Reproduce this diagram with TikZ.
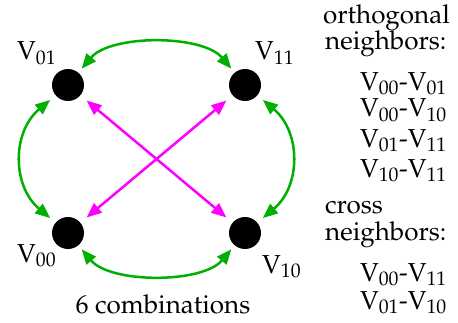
\documentclass[tikz,border=0pt]{standalone}
\usepackage[T1]{fontenc}
\usepackage{mathpazo}
\usetikzlibrary{arrows.meta, positioning}
\definecolor{orthgreen}{HTML}{00B000}
\definecolor{crossmag}{HTML}{FF00FF}
\tikzset{
  vtx/.style={circle, fill=black, minimum size=32pt, inner sep=0pt},
  lbl/.style={font=\fontsize{26}{28}\selectfont, inner sep=0pt},
  arr/.style={{Triangle[length=15pt,width=12pt]}-{Triangle[length=15pt,width=12pt]},
              line width=2.5pt, draw=#1, shorten <=5pt, shorten >=5pt},
  arr/.default=orthgreen,
}

\begin{document}
\begin{tikzpicture}[x=1pt, y=1pt]
  \useasboundingbox (0,0) rectangle (458,322);

  % the four corners
  \node[vtx] (v01) at (68,237) {};
  \node[vtx] (v11) at (245,237) {};
  \node[vtx] (v00) at (68,89) {};
  \node[vtx] (v10) at (245,89) {};

  \node[lbl, anchor=base west] (l01) at (17,262) {V$_{01}$};
  \node[lbl, anchor=base west] (l11) at (255,262) {V$_{11}$};
  \node[lbl, anchor=base west] (l00) at (17,60) {V$_{00}$};
  \node[lbl, anchor=base west] (l10) at (262,49) {V$_{10}$};

  % orthogonal pairs
  \draw[arr] (v01) to[out=50, in=130, looseness=0.82] (v11);
  \draw[arr] (v00) to[out=-50, in=-130, looseness=0.82] (v10);
  \draw[arr, shorten <=7pt, shorten >=7pt] (v00) to[out=140, in=220, looseness=1.15] (v01);
  \draw[arr, shorten <=7pt, shorten >=7pt] (v11) to[out=-40, in=40, looseness=1.15] (v10);

  % cross pairs
  \draw[arr=crossmag, shorten <=8pt, shorten >=8pt] (v01) -- (v10);
  \draw[arr=crossmag, shorten <=8pt, shorten >=8pt] (v11) -- (v00);

  \node[lbl, anchor=base] (combos) at (163,9) {6 combinations};

  % list on the right
  \node[lbl, anchor=base west] (orth) at (323,298) {orthogonal};
  \node[lbl, anchor=base west] (orthnb) at (325,272) {neighbors:};
  \node[lbl, anchor=base east] (o1) at (447,232) {V$_{00}$-V$_{01}$};
  \node[lbl, anchor=base east] (o2) at (447,205) {V$_{00}$-V$_{10}$};
  \node[lbl, anchor=base east] (o3) at (447,175) {V$_{01}$-V$_{11}$};
  \node[lbl, anchor=base east] (o4) at (447,145) {V$_{10}$-V$_{11}$};
  \node[lbl, anchor=base west] (cross) at (325,109) {cross};
  \node[lbl, anchor=base west] (crossnb) at (325,82) {neighbors:};
  \node[lbl, anchor=base east] (c1) at (447,41) {V$_{00}$-V$_{11}$};
  \node[lbl, anchor=base east] (c2) at (447,13) {V$_{01}$-V$_{10}$};
\end{tikzpicture}
\end{document}
